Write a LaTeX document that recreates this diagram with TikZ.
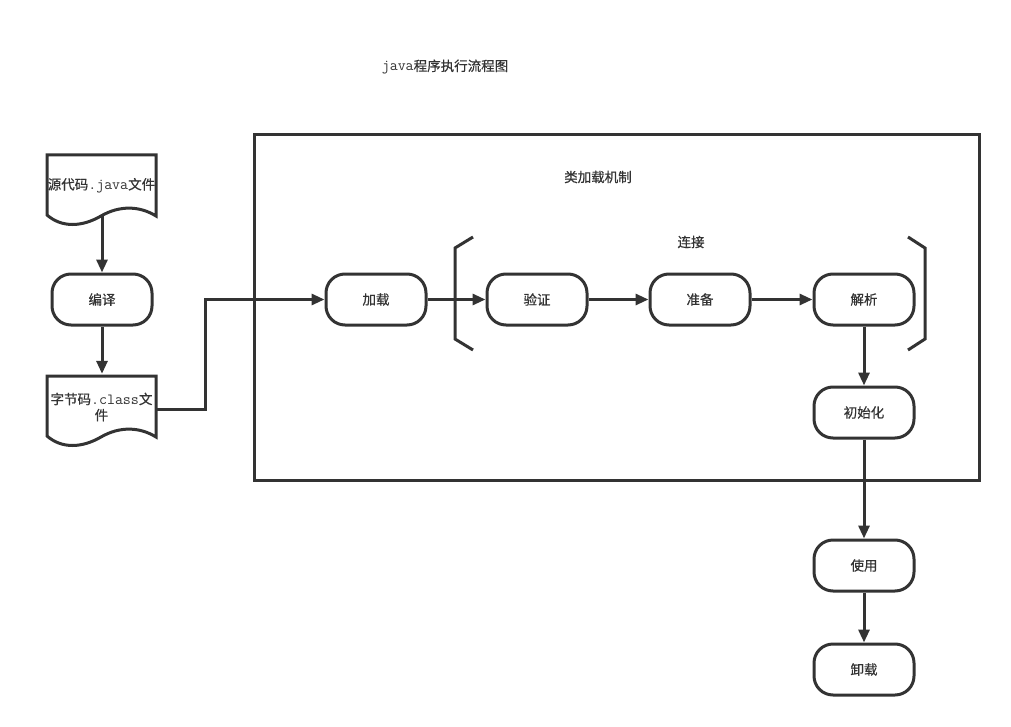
\documentclass[tikz,border=0pt]{standalone}
\usepackage{fontspec}
\setmainfont{Noto Sans CJK SC}[FakeBold=0.6]
\usetikzlibrary{arrows.meta}
\definecolor{ink}{HTML}{333333}
\newcommand{\mt}[1]{{\fontsize{15.5}{15}\selectfont\ttfamily #1}}
\tikzset{
  ln/.style={draw=ink, line width=3pt},
  arr/.style={ln, -{Triangle[length=13pt,width=11pt]}},
  proc/.style={ln, rounded corners=19pt, minimum width=100pt, minimum height=51pt, inner sep=0pt, font=\fontsize{13.5}{15}\selectfont, text=ink},
  lbl/.style={font=\fontsize{13.5}{15}\selectfont, text=ink, inner sep=0pt},
  docn/.style={minimum width=109pt, inner sep=0pt, align=center, font=\fontsize{13.5}{16}\selectfont, text=ink}
}
\begin{document}
\begin{tikzpicture}[x=1pt,y=-1pt]
\useasboundingbox (0,0) rectangle (1011,727);
% title and labels
\node[lbl] (title) at (445,67) {\mt{java}程序执行流程图};
\node[lbl] (cls) at (598,177) {类加载机制};
\node[lbl] (conn) at (691,242) {连接};
% frame
\draw[ln] (254,135) rectangle (979,480);
% documents
\draw[ln] (47,155) -- (156,155) -- (156,216) .. controls (140,206) and (120,205) .. (101,216) .. controls (82,227) and (62,228) .. (47,215) -- cycle;
\node[docn, minimum height=61pt] (d1) at (101.5,185.5) {源代码\mt{.java}文件};
\draw[ln] (47,376) -- (156,376) -- (156,437) .. controls (140,427) and (120,426) .. (101,437) .. controls (82,448) and (62,449) .. (47,436) -- cycle;
\node[docn, minimum height=66pt] (d2) at (101.5,407) {字节码\mt{.class}文\\件};
% process nodes
\node[proc] (bianyi) at (102,299.5) {编译};
\node[proc] (jiazai) at (376,299.5) {加载};
\node[proc] (yanzheng) at (537,299.5) {验证};
\node[proc] (zhunbei) at (700,299.5) {准备};
\node[proc] (jiexi) at (864,299.5) {解析};
\node[proc] (chushi) at (864,412.5) {初始化};
\node[proc] (shiyong) at (864,565.5) {使用};
\node[proc] (xiezai) at (864,669.5) {卸载};
% brackets
\draw[ln] (473,237) -- (455,248) -- (455,339) -- (473,350);
\draw[ln] (908,237) -- (925,248) -- (925,339) -- (908,350);
% connectors
\draw[arr] (d1.south -| bianyi.north) -- (bianyi.north);
\draw[arr] (bianyi.south) -- (d2.north -| bianyi.south);
\draw[arr] ([yshift=-2pt]d2.east) -- (205,409) -- (205,299.5) -- (jiazai.west);
\draw[arr] (jiazai.east) -- (yanzheng.west);
\draw[arr] (yanzheng.east) -- (zhunbei.west);
\draw[arr] (zhunbei.east) -- (jiexi.west);
\draw[arr] (jiexi.south) -- (chushi.north);
\draw[arr] (chushi.south) -- (shiyong.north);
\draw[arr] (shiyong.south) -- (xiezai.north);
\end{tikzpicture}
\end{document}
